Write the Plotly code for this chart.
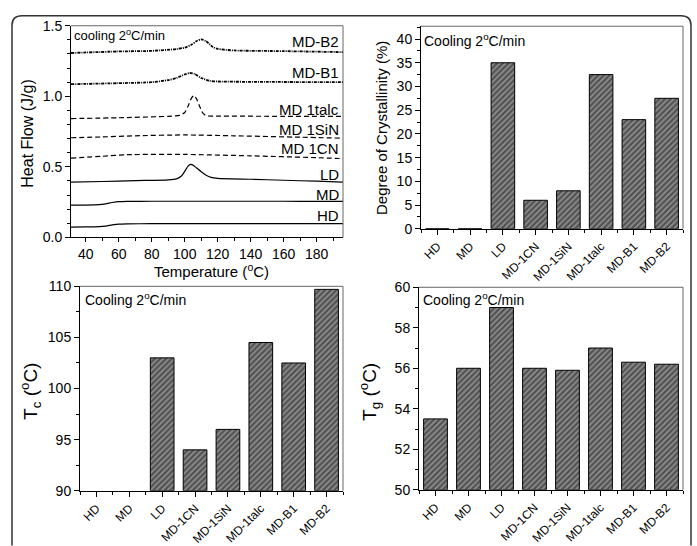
import plotly.graph_objects as go

# ---------------- data ----------------
# DSC cooling curves (temperature in °C, heat flow in J/g)
hd_x = [31, 40, 48, 52, 56, 60, 65, 80, 100, 120, 140, 160, 180, 196]
hd_y = [0.073, 0.074, 0.076, 0.080, 0.088, 0.094, 0.096, 0.097, 0.097, 0.097, 0.097, 0.097, 0.097, 0.097]
md_x = [31, 40, 48, 52, 56, 60, 65, 80, 100, 120, 140, 160, 180, 196]
md_y = [0.228, 0.229, 0.232, 0.238, 0.247, 0.253, 0.255, 0.256, 0.256, 0.256, 0.256, 0.256, 0.255, 0.255]
ld_x = [31, 50, 70, 90, 95, 98, 100, 102, 103.5, 105, 107, 110, 113, 116, 120, 140, 160, 180, 196]
ld_y = [0.391, 0.396, 0.402, 0.408, 0.415, 0.435, 0.468, 0.505, 0.517, 0.512, 0.494, 0.465, 0.440, 0.425, 0.418, 0.412, 0.405, 0.398, 0.392]
cn_x = [31, 50, 65, 100, 140, 180, 196]
cn_y = [0.562, 0.575, 0.586, 0.588, 0.578, 0.565, 0.558]
sin_x = [31, 50, 70, 100, 130, 170, 196]
sin_y = [0.706, 0.712, 0.720, 0.726, 0.720, 0.710, 0.703]
talc_x = [31, 60, 90, 97, 100, 102, 104, 105.5, 107, 109, 111, 113, 120, 160, 196]
talc_y = [0.842, 0.848, 0.858, 0.865, 0.885, 0.930, 0.985, 1.005, 0.985, 0.930, 0.880, 0.862, 0.860, 0.858, 0.857]
b1_x = [31, 60, 80, 90, 95, 100, 103, 106, 110, 115, 120, 150, 196]
b1_y = [1.086, 1.093, 1.100, 1.115, 1.130, 1.155, 1.165, 1.158, 1.130, 1.110, 1.105, 1.102, 1.100]
b2_x = [31, 60, 80, 95, 100, 104, 107, 110, 113, 117, 120, 130, 160, 196]
b2_y = [1.307, 1.318, 1.322, 1.335, 1.345, 1.365, 1.390, 1.404, 1.390, 1.350, 1.336, 1.325, 1.320, 1.313]

curve_labels = ["MD-B2", "MD-B1", "MD 1talc", "MD 1SiN", "MD 1CN", "LD", "MD", "HD"]
curve_label_y = [1.39, 1.166, 0.908, 0.767, 0.631, 0.448, 0.307, 0.153]

# bar data
samples = ["HD", "MD", "LD", "MD-1CN", "MD-1SiN", "MD-1talc", "MD-B1", "MD-B2"]
crystallinity = [0, 0, 35, 6, 8, 32.5, 23, 27.5]
tc = [None, None, 103, 94, 96, 104.5, 102.5, 109.7]
tg = [53.5, 56, 59, 56, 55.9, 57, 56.3, 56.2]

# ---------------- figure ----------------
W, H = 697, 546
FONT = "Arial"

def px(x):
    return x / W

def py(y):
    return 1 - y / H

fig = go.Figure()

curves = [
    (hd_x, hd_y, "solid", 1.2),
    (md_x, md_y, "solid", 1.2),
    (ld_x, ld_y, "solid", 1.2),
    (cn_x, cn_y, "5px,3px", 1.2),
    (sin_x, sin_y, "5px,3px", 1.2),
    (talc_x, talc_y, "5px,3px", 1.2),
    (b1_x, b1_y, "3px,1px,1px,1px", 1.8),
    (b2_x, b2_y, "3px,1px,1px,1px", 1.8),
]
for cx, cy, dash, w in curves:
    fig.add_trace(go.Scatter(x=cx, y=cy, mode="lines", xaxis="x", yaxis="y",
                             line=dict(color="black", width=w, dash=dash, shape="spline", smoothing=0.6),
                             showlegend=False, hoverinfo="skip"))

bar_x = list(range(len(samples)))
bar_style = dict(color="#8a8a8a", line=dict(color="black", width=1),
                 pattern=dict(shape="/", fgcolor="#111111", bgcolor="#8a8a8a", size=4, solidity=0.5))

fig.add_trace(go.Bar(x=bar_x, y=crystallinity, xaxis="x2", yaxis="y2", marker=bar_style,
                     width=0.72, showlegend=False, hoverinfo="skip"))
fig.add_trace(go.Bar(x=bar_x, y=[v - 90 if v is not None else None for v in tc], base=90,
                     xaxis="x3", yaxis="y3", marker=bar_style, width=0.72, showlegend=False, hoverinfo="skip"))
fig.add_trace(go.Bar(x=bar_x, y=[v - 50 for v in tg], base=50,
                     xaxis="x4", yaxis="y4", marker=bar_style, width=0.72, showlegend=False, hoverinfo="skip"))

# panel pixel boxes (left, top, right, bottom)
P1 = (71, 18.5, 343, 239)
P2 = (421, 19, 683, 230)
P3 = (80, 290, 343, 503)
P4 = (419, 291, 683, 502)

axis_common = dict(showline=True, linecolor="black", linewidth=1, ticks="outside",
                   tickcolor="black", ticklen=5, tickwidth=1, showgrid=False, zeroline=False,
                   tickfont=dict(family=FONT, size=14, color="black"))

def xdom(p):
    return [px(p[0]), px(p[2])]

def ydom(p):
    return [py(p[3]), py(p[1])]

bar_xaxis = dict(axis_common, range=[-0.5, 7.5], tickmode="array", tickvals=bar_x, ticktext=samples,
                 tickangle=-45, tickfont=dict(family=FONT, size=12, color="black"),
                 minor=dict(tick0=0.5, dtick=1, ticks="outside", ticklen=3, tickcolor="black"))

fig.update_layout(
    width=W, height=H, margin=dict(l=0, r=0, t=0, b=0),
    paper_bgcolor="white", plot_bgcolor="white", bargap=0.28,
    font=dict(family=FONT, color="black"),
    xaxis=dict(axis_common, domain=xdom(P1), range=[31, 196], anchor="y", tick0=40, dtick=20,
               ticklen=4, tickfont=dict(family=FONT, size=14, color="black"),
               minor=dict(dtick=10, ticks="outside", ticklen=3, tickcolor="black")),
    yaxis=dict(axis_common, domain=ydom(P1), range=[0, 1.5], anchor="x", dtick=0.5, tickformat=".1f",
               minor=dict(dtick=0.1, ticks="outside", ticklen=3, tickcolor="black")),
    xaxis2=dict(bar_xaxis, domain=xdom(P2), anchor="y2"),
    yaxis2=dict(axis_common, domain=ydom(P2), range=[0, 42.7], anchor="x2", dtick=5,
                minor=dict(dtick=2.5, ticks="outside", ticklen=3, tickcolor="black")),
    xaxis3=dict(bar_xaxis, domain=xdom(P3), anchor="y3"),
    yaxis3=dict(axis_common, domain=ydom(P3), range=[90, 110], anchor="x3", dtick=5,
                minor=dict(dtick=2.5, ticks="outside", ticklen=3, tickcolor="black")),
    xaxis4=dict(bar_xaxis, domain=xdom(P4), anchor="y4"),
    yaxis4=dict(axis_common, domain=ydom(P4), range=[50, 60], anchor="x4", dtick=2,
                minor=dict(dtick=1, ticks="outside", ticklen=3, tickcolor="black")),
)

shapes = []
# gray top/right frame lines of each panel
for p in (P1, P2, P3, P4):
    shapes.append(dict(type="line", xref="paper", yref="paper", x0=px(p[0]), x1=px(p[2]),
                       y0=py(p[1]), y1=py(p[1]), line=dict(color="#666", width=1)))
    shapes.append(dict(type="line", xref="paper", yref="paper", x0=px(p[2]), x1=px(p[2]),
                       y0=py(p[1]), y1=py(p[3]), line=dict(color="#666", width=1)))
# outer rounded frame (open at the bottom)
r = 10
L, T, R, B = 12, 8, 691, 560
path = (f"M {px(L)},{py(B)} L {px(L)},{py(T + r)} Q {px(L)},{py(T)} {px(L + r)},{py(T)} "
        f"L {px(R - r)},{py(T)} Q {px(R)},{py(T)} {px(R)},{py(T + r)} L {px(R)},{py(B)}")
shapes.append(dict(type="path", xref="paper", yref="paper", path=path,
                   line=dict(color="#333", width=1.5)))
fig.update_layout(shapes=shapes)

ann = []
# curve labels
for lab, yv in zip(curve_labels, curve_label_y):
    ann.append(dict(x=195, y=yv, xref="x", yref="y", text=lab, showarrow=False, xanchor="right",
                    yanchor="middle", font=dict(family=FONT, size=15, color="black")))
# in-panel notes
ann.append(dict(x=px(72), y=py(18), xref="paper", yref="paper", text="cooling 2<sup>o</sup>C/min",
                showarrow=False, xanchor="left", yanchor="top", font=dict(family=FONT, size=13)))
ann.append(dict(x=px(422), y=py(22), xref="paper", yref="paper", text="Cooling 2<sup>o</sup>C/min",
                showarrow=False, xanchor="left", yanchor="top", font=dict(family=FONT, size=14)))
ann.append(dict(x=px(83), y=py(292), xref="paper", yref="paper", text="Cooling 2<sup>o</sup>C/min",
                showarrow=False, xanchor="left", yanchor="top", font=dict(family=FONT, size=14)))
ann.append(dict(x=px(421), y=py(292), xref="paper", yref="paper", text="Cooling 2<sup>o</sup>C/min",
                showarrow=False, xanchor="left", yanchor="top", font=dict(family=FONT, size=14)))
# axis titles
title_style = dict(xref="paper", yref="paper", showarrow=False, xanchor="center", yanchor="middle")
ann.append(dict(title_style, x=px(28), y=py(131), text="Heat Flow (J/g)", textangle=-90,
                font=dict(family=FONT, size=16)))
ann.append(dict(title_style, x=px(211), y=py(274), text="Temperature (<sup>o</sup>C)",
                font=dict(family=FONT, size=15)))
ann.append(dict(title_style, x=px(382), y=py(125), text="Degree of Crystallinity (%)",
                textangle=-90, font=dict(family=FONT, size=15)))
ann.append(dict(title_style, x=px(31), y=py(400), text="T<sub>c</sub> (<sup>o</sup>C)",
                textangle=-90, font=dict(family=FONT, size=19)))
ann.append(dict(title_style, x=px(370), y=py(400), text="T<sub>g</sub> (<sup>o</sup>C)",
                textangle=-90, font=dict(family=FONT, size=19)))
fig.update_layout(annotations=ann)

fig.write_html("out.html")
